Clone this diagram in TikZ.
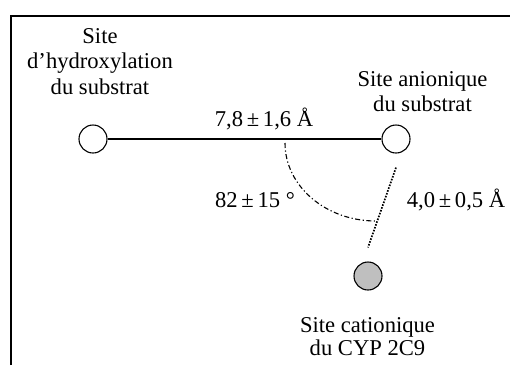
\documentclass[tikz,border=0pt]{standalone}
\usepackage{fontspec}
\setmainfont{Liberation Serif}
\usetikzlibrary{calc}
\begin{document}
\begin{tikzpicture}[x=1bp,y=-1bp,
  site/.style={circle,draw,line width=1.1bp,minimum size=28bp,inner sep=0pt},
  lbl/.style={inner sep=0pt,font=\fontsize{22.6bp}{25.5bp}\selectfont,align=center},
  frameline/.style={line width=1.4bp},
  mainline/.style={line width=1.1bp},
  anglearc/.style={line width=1.1bp,dash pattern=on 5bp off 2.5bp on 1.2bp off 2.5bp},
  distline/.style={line width=1.7bp,dash pattern=on 1.6bp off 1.4bp}]
\useasboundingbox (0,0) rectangle (510,365);
% frame (left and top edges)
\coordinate (fb) at (11,365);
\coordinate (fc) at (11,16);
\coordinate (fr) at (510,16);
\draw[frameline] (fb) -- (fc) -- (fr);
% sites
\node[site] (L) at (93,139) {};
\node[site] (R) at (396,139) {};
\node[site,fill=black!25] (G) at (368,276) {};
% connectors
\draw[mainline] (L) -- (R);
\coordinate (dA) at ($(R.south)+(0,14)$);
\coordinate (dB) at ($(G.north)+(0,-14)$);
\draw[distline] (dA) -- (dB);
\coordinate (aS) at (285,143);
\draw[anglearc] (aS) arc[start angle=180,end angle=90,x radius=91,y radius=78];
% labels
\node[lbl,anchor=north] (t1) at (100,28.3) {Site\\d'hydroxylation\\du substrat};
\node[lbl,anchor=north] (t2) at (422.5,71) {Site anionique\\du substrat};
\node[lbl,anchor=north,font=\fontsize{22.6bp}{22.5bp}\selectfont] (t3) at (367.5,317.5) {Site cationique\\du CYP 2C9};
\node[lbl,anchor=base] (d1) at (264,126) {7,8\,±\,1,6 Å};
\node[lbl,anchor=base] (d2) at (255,207) {82\,±\,15 °};
\node[lbl,anchor=base] (d3) at (456,207) {4,0\,±\,0,5 Å};
\end{tikzpicture}
\end{document}
